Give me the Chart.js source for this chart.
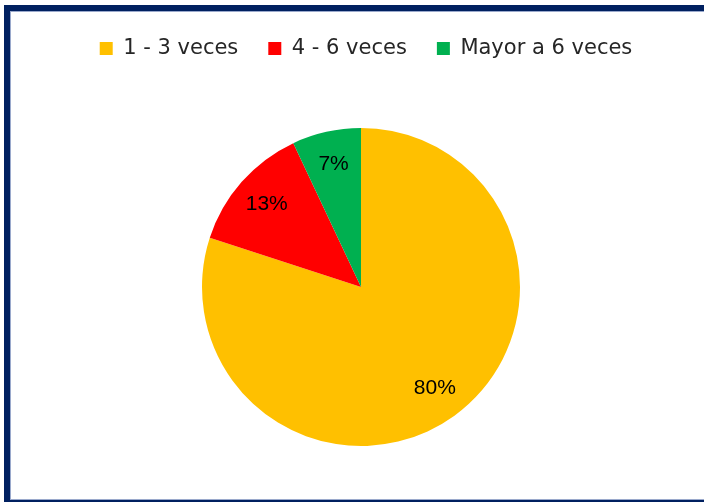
<!DOCTYPE html>
<html>
<head>
<meta charset="utf-8">
<script src="https://cdn.jsdelivr.net/npm/chart.js@4/dist/chart.umd.min.js"></script>
<style>
  html, body { margin: 0; padding: 0; background: #fff; overflow: hidden; width: 704px; height: 502px; }
  #frame {
    position: absolute; left: 4px; top: 5px; width: 720px; height: 501px;
    box-sizing: border-box; border: 6px solid #002060;
    box-shadow: inset 0 0 0 1px #9aa9cc;
  }
  #wrap { position: absolute; left: 0; top: 0; width: 704px; height: 505px; }
</style>
</head>
<body>
<div id="frame"></div>
<div id="wrap"><canvas id="c"></canvas></div>
<script>
// Frequency categories and their share of answers (%)
const categories = ['1 - 3 veces', '4 - 6 veces', 'Mayor a 6 veces'];
const shares = [80, 13, 7];
const sliceColors = ['#FFC000', '#FF0000', '#00B050'];

// Writes each slice's percentage inside the slice, along its middle angle
const sliceLabels = {
  id: 'sliceLabels',
  afterDatasetsDraw(chart) {
    const { ctx } = chart;
    const meta = chart.getDatasetMeta(0);
    ctx.save();
    ctx.font = '21px "Liberation Sans", Arial, sans-serif';
    ctx.fillStyle = '#000';
    ctx.textAlign = 'center';
    ctx.textBaseline = 'middle';
    meta.data.forEach((arc, i) => {
      const p = arc.getProps(['x', 'y', 'startAngle', 'endAngle', 'outerRadius'], true);
      const mid = (p.startAngle + p.endAngle) / 2;
      const r = p.outerRadius * 0.79;
      ctx.fillText(shares[i] + '%', p.x + Math.cos(mid) * r, p.y + Math.sin(mid) * r);
    });
    ctx.restore();
  }
};

// Nudges the legend row a little to the right of the pie's axis
const legendNudge = {
  id: 'legendNudge',
  afterLayout(chart) {
    if (chart.legend) {
      chart.legend.left += 5;
      chart.legend.right += 5;
    }
  }
};

new Chart(document.getElementById('c'), {
  type: 'pie',
  data: {
    labels: categories,
    datasets: [{
      data: shares,
      backgroundColor: sliceColors,
      borderWidth: 0
    }]
  },
  options: {
    responsive: true,
    maintainAspectRatio: false,
    animation: false,
    radius: 159,
    layout: { padding: { left: 18, right: 0, top: 8, bottom: 0 } },
    plugins: {
      tooltip: { enabled: false },
      legend: {
        position: 'top',
        labels: {
          boxWidth: 13,
          boxHeight: 13,
          padding: 30,
          color: '#262626',
          font: { family: '"DejaVu Sans", sans-serif', size: 21 }
        }
      }
    }
  },
  plugins: [sliceLabels, legendNudge]
});
</script>
</body>
</html>
